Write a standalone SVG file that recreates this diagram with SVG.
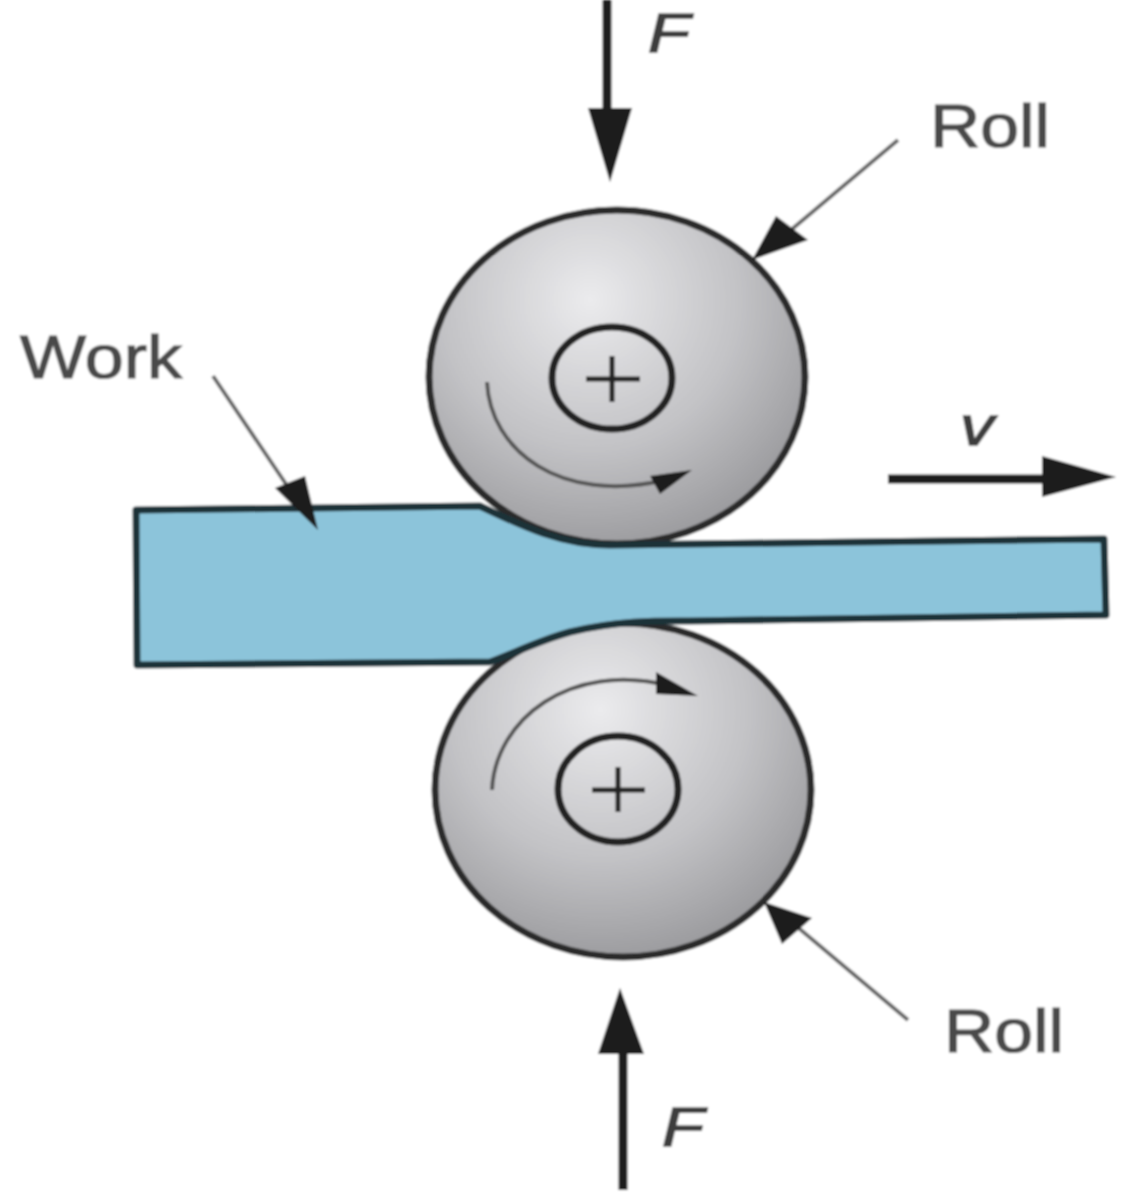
<svg xmlns="http://www.w3.org/2000/svg" width="1139" height="1200" viewBox="0 0 1139 1200">
<style>
.lbl{font-family:"Liberation Sans",Arial,sans-serif;font-size:62px;fill:#4a4a4a;stroke:#4a4a4a;stroke-width:1.2}
.it{font-family:"Liberation Sans",Arial,sans-serif;font-style:italic;font-size:55px;fill:#3c3c3c;stroke:#3c3c3c;stroke-width:1.5}
.roll{stroke:#2c2c2c;stroke-width:7}
.hub{fill:none;stroke:#222;stroke-width:7}
.thin{fill:none;stroke:#555;stroke-width:4}
.lead{fill:none;stroke:#666;stroke-width:4}
.heavy{fill:none;stroke:#1e1e1e;stroke-width:9}
.head{fill:#1e1e1e}
</style>
<defs>
<radialGradient id="g1" gradientUnits="userSpaceOnUse" cx="590" cy="300" r="250"><stop offset="0" stop-color="#ebebed"/><stop offset="0.6" stop-color="#c2c2c5"/><stop offset="1" stop-color="#9c9c9f"/></radialGradient>
<radialGradient id="g2" gradientUnits="userSpaceOnUse" cx="600" cy="710" r="250"><stop offset="0" stop-color="#ebebed"/><stop offset="0.6" stop-color="#c2c2c5"/><stop offset="1" stop-color="#9c9c9f"/></radialGradient>
<filter id="soft" x="0" y="0" width="100%" height="100%" filterUnits="objectBoundingBox"><feGaussianBlur stdDeviation="1.3"/></filter>
</defs>
<rect width="1139" height="1200" fill="#fff"/>
<g filter="url(#soft)">
<rect width="1139" height="1200" fill="#fff"/>
<g id="roll-top">
<ellipse class="roll" cx="617" cy="377" rx="188" ry="167" fill="url(#g1)"/>
<ellipse class="hub" cx="612" cy="378" rx="60" ry="51"/>
<path d="M612 356V402M586 379H640" fill="none" stroke="#222" stroke-width="5"/>
<path class="thin" d="M487 382C490 450 560 505 665 480"/>
<path class="head" d="M692 470L650 476L660 494Z"/>
</g>
<g id="roll-bottom">
<ellipse class="roll" cx="623" cy="790" rx="188" ry="167" fill="url(#g2)"/>
<ellipse class="hub" cx="618" cy="789" rx="60" ry="53"/>
<path d="M618 767V812M592 790H645" fill="none" stroke="#222" stroke-width="5"/>
<path class="thin" d="M492 790C495 720 570 660 670 686"/>
<path class="head" d="M698 696L656 672L656 694Z"/>
</g>
<g id="work">
<path d="M136 510L480 506C520 525 560 545 610 545L1104 539L1106 615L690 621C660 621 620 620 570 632C540 640 510 655 490 662L137 665Z" fill="#8cc4da" stroke="#1d3038" stroke-width="7" stroke-linejoin="round"/>
</g>
<g id="connectors">
<path class="heavy" d="M607 0V120"/>
<path class="head" d="M588 108H632L610 182Z"/>
<path class="lead" d="M898 140L785 235"/>
<path class="head" d="M752 260L776 216L808 240Z"/>
<path class="lead" d="M213 376L290 490"/>
<path class="head" d="M318 530L275 488L305 476Z"/>
<path class="heavy" d="M888 479H1050"/>
<path class="head" d="M1042 456L1116 477L1042 497Z"/>
<path class="lead" d="M908 1020L795 925"/>
<path class="head" d="M764 902L812 918L782 944Z"/>
<path class="heavy" d="M623 1190V1050"/>
<path class="head" d="M598 1054H644L620 988Z"/>
</g>
<g id="labels">
<text class="lbl" x="930" y="147" textLength="120" lengthAdjust="spacingAndGlyphs">Roll</text>
<text class="lbl" x="20" y="378" textLength="162" lengthAdjust="spacingAndGlyphs">Work</text>
<text class="lbl" x="944" y="1052" textLength="120" lengthAdjust="spacingAndGlyphs">Roll</text>
<text class="it" x="648" y="52" textLength="42" lengthAdjust="spacingAndGlyphs">F</text>
<text class="it" x="662" y="1146" textLength="42" lengthAdjust="spacingAndGlyphs">F</text>
<text class="it" x="960" y="445" textLength="34" lengthAdjust="spacingAndGlyphs">v</text>
</g>
</g>
</svg>
